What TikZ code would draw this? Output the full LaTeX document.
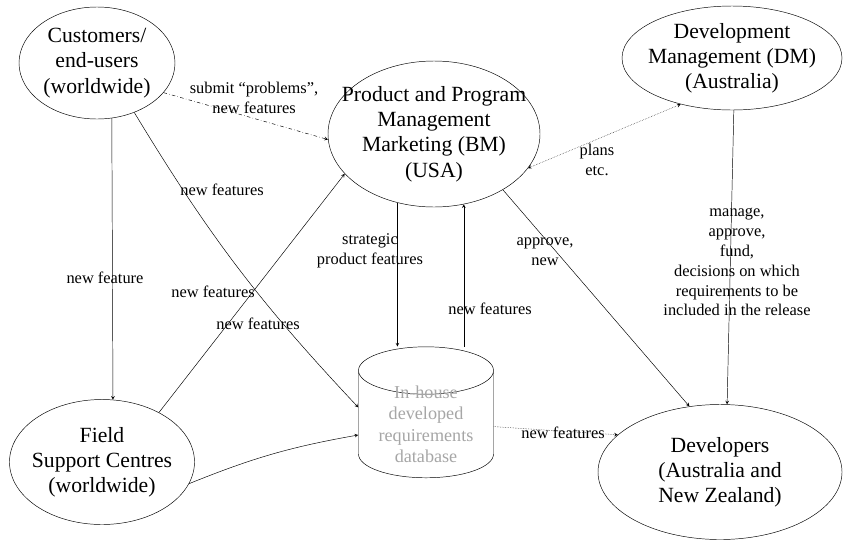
\documentclass[tikz,border=0pt]{standalone}
\usepackage{fontspec}
\setmainfont{Liberation Serif}
\usetikzlibrary{shapes.geometric}

\begin{document}
\begin{tikzpicture}[
    x=0.03cm, y=-0.03cm,
    party/.style={ellipse, draw=black, inner sep=-20pt, align=center, font=\fontsize{18.5}{21.5}\selectfont},
    store/.style={cylinder, shape border rotate=90, aspect=0.5, draw=black, inner xsep=0pt, inner ysep=-7pt,
                  align=center, text=black!35, font=\fontsize{15.5}{18}\selectfont},
    flow/.style={font=\fontsize{14}{17}\selectfont, align=center, inner sep=1pt},
    >=stealth
]
\useasboundingbox (0,0) rectangle (846,550);

% Parties
\node[party, minimum width=4.68cm, minimum height=3.36cm] (cust) at (97,63) {Customers/\\end-users\\(worldwide)};
\node[party, minimum width=6.36cm, minimum height=4.38cm] (bm) at (434,134) {Product and Program\\Management\\Marketing (BM)\\(USA)};
\node[party, minimum width=6.6cm, minimum height=3.12cm] (dm) at (732,58) {Development\\Management (DM)\\(Australia)};
\node[party, minimum width=5.55cm, minimum height=3.75cm] (field) at (102,462) {Field\\Support Centres\\(worldwide)};
\node[party, minimum width=7.32cm, minimum height=4.05cm] (dev) at (720,472) {Developers\\(Australia and\\New Zealand)};

% Requirements database
\node[store, minimum width=4.05cm, minimum height=1cm, anchor=south] (db) at (426,478) {In-house\\developed\\requirements\\database};

% Connections
\draw[->, dash dot] (cust.-24) -- (bm.-177);
\draw[->] (cust.-75) -- (field.80);
\draw[->] (cust.-53) to[bend right=6] (db.166);
\draw[->] (field.41) -- (bm.204);
\draw[->] (field.-14) to[bend left=6] (db.-171);
\draw[->] (bm.-118) -- (bm.-118 |- db.north);
\draw[->] (db.north -| bm.-67) -- (bm.-67);
\draw[->] (bm.-39) -- (dev.115);
\draw[<->, densely dotted] (bm.-20) -- (dm.222);
\draw[->] (dm.-88) -- (dev.84);
\draw[->, densely dotted] (db.-2) -- (dev.160);

% Flow labels
\node[flow] (l1) at (254,98) {submit ``problems'',\\new features};
\node[flow] (l2) at (222,190) {new features};
\node[flow] (l3) at (105,278) {new feature};
\node[flow] (l4) at (213,292) {new features};
\node[flow] (l5) at (258,324) {new features};
\node[flow] (l6) at (370,251) {strategic\\product features};
\node[flow] (l7) at (490,309) {new features};
\node[flow] (l8) at (545,252) {approve,\\new};
\node[flow] (l9) at (597,160) {plans\\etc.};
\node[flow] (l10) at (737,262) {manage,\\approve,\\fund,\\decisions on which\\requirements to be\\included in the release};
\node[flow] (l11) at (563,433) {new features};

\end{tikzpicture}
\end{document}
